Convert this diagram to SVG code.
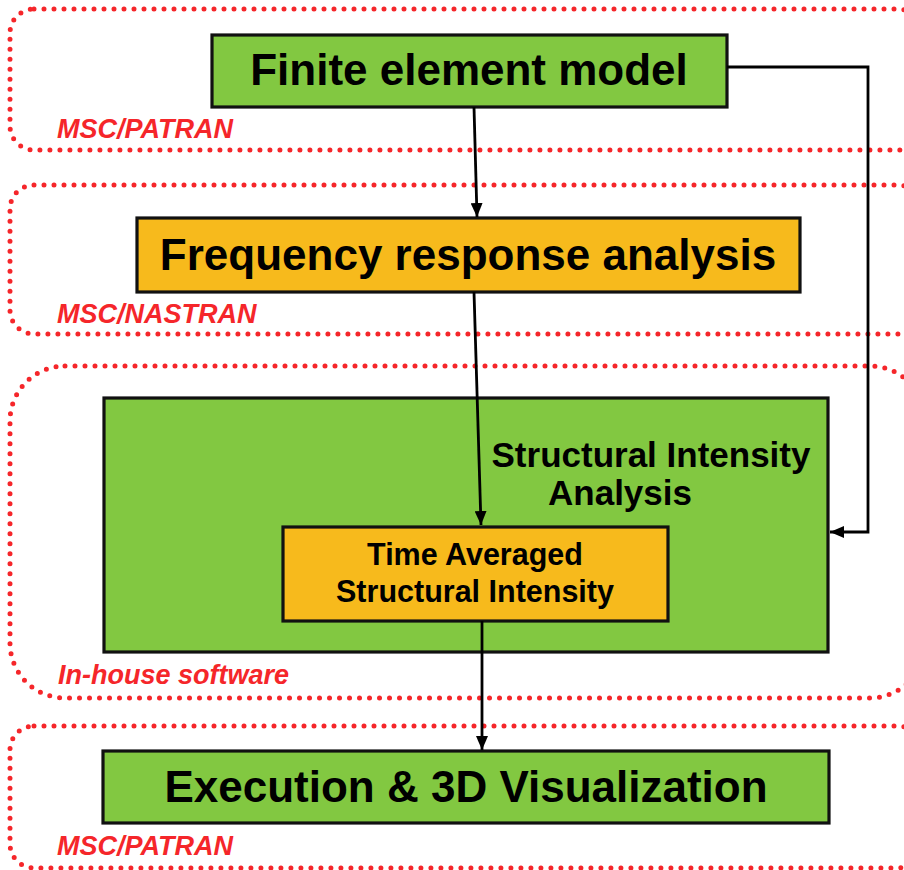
<svg xmlns="http://www.w3.org/2000/svg" width="904" height="870" viewBox="0 0 904 870">
<defs>
<style>
.zone{fill:none;stroke:#F5262A;stroke-width:5;stroke-linecap:round;stroke-dasharray:0 10}
.zl{font-family:"Liberation Sans",Arial,sans-serif;font-weight:bold;font-style:italic;font-size:27px;fill:#F5262A}
.green{fill:#82C841;stroke:#111;stroke-width:3.2}
.orange{fill:#F7BA1C;stroke:#111;stroke-width:3.2}
.t{font-family:"Liberation Sans",Arial,sans-serif;font-weight:bold;fill:#000;text-anchor:middle}
.c{fill:none;stroke:#000;stroke-width:2.8}
</style>
<marker id="ah" viewBox="0 0 14 12" refX="14" refY="6" markerWidth="14" markerHeight="12" markerUnits="userSpaceOnUse" orient="auto">
<path d="M0,0 L14,6 L0,12 Z" fill="#000"/>
</marker>
</defs>
<g id="zones">
<rect class="zone" x="10" y="9" width="912" height="141" rx="24" ry="24"/>
<rect class="zone" x="10" y="185" width="912" height="149" rx="24" ry="24"/>
<rect class="zone" x="10" y="366" width="915" height="332" rx="55" ry="55"/>
<rect class="zone" x="10" y="726" width="912" height="142" rx="24" ry="24"/>
<text class="zl" x="57" y="138">MSC/PATRAN</text>
<text class="zl" x="57" y="323">MSC/NASTRAN</text>
<text class="zl" x="58" y="684">In-house software</text>
<text class="zl" x="57" y="855">MSC/PATRAN</text>
</g>
<g id="fem">
<rect class="green" x="212" y="35" width="515" height="72"/>
<text class="t" x="469" y="85" font-size="44">Finite element model</text>
</g>
<g id="fra">
<rect class="orange" x="137" y="218" width="663" height="74"/>
<text class="t" x="468" y="270" font-size="44">Frequency response analysis</text>
</g>
<g id="sia">
<rect class="green" x="104" y="398" width="724" height="254"/>
<text class="t" x="651" y="467" font-size="35">Structural Intensity</text>
<text class="t" x="620" y="505" font-size="35">Analysis</text>
</g>
<g id="tasi">
<rect class="orange" x="283" y="527" width="385" height="94"/>
<text class="t" x="475" y="565" font-size="30.5">Time Averaged</text>
<text class="t" x="475" y="602" font-size="30.5">Structural Intensity</text>
</g>
<g id="exec">
<rect class="green" x="103" y="751" width="726" height="72"/>
<text class="t" x="466" y="802" font-size="44">Execution &amp; 3D Visualization</text>
</g>
<g id="connectors">
<line class="c" x1="474" y1="107" x2="477" y2="217" marker-end="url(#ah)"/>
<line class="c" x1="474" y1="292" x2="481" y2="525" marker-end="url(#ah)"/>
<line class="c" x1="482" y1="621" x2="482" y2="750" marker-end="url(#ah)"/>
<polyline class="c" points="727,67 868,67 868,532 830,532" marker-end="url(#ah)"/>
</g>
</svg>
